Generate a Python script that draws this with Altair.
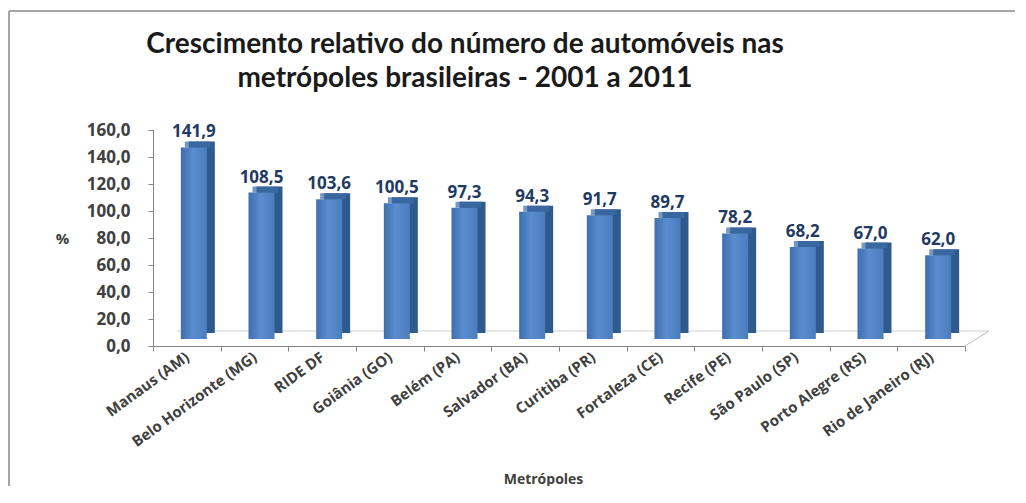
import altair as alt
import pandas as pd

cities = ["Manaus (AM)", "Belo Horizonte (MG)", "RIDE DF", "Goiânia (GO)", "Belém (PA)",
          "Salvador (BA)", "Curitiba (PR)", "Fortaleza (CE)", "Recife (PE)", "São Paulo (SP)",
          "Porto Alegre (RS)", "Rio de Janeiro (RJ)"]
values = [141.9, 108.5, 103.6, 100.5, 97.3, 94.3, 91.7, 89.7, 78.2, 68.2, 67.0, 62.0]
y_ticks = [0, 20, 40, 60, 80, 100, 120, 140, 160]
title_lines = ["Crescimento relativo do número de automóveis nas",
               "metrópoles brasileiras - 2001 a 2011"]

df = pd.DataFrame({"city": cities, "value": values})
df["label"] = [f"{v:.1f}".replace(".", ",") for v in values]

W, H = 812, 216
AX = "#868686"
TXT = "#404040"

xs = alt.Scale(domain=cities, paddingInner=0, paddingOuter=0)
ys = alt.Scale(domain=[0, 160], nice=False)

x_enc = alt.X("city:N", sort=cities, scale=xs, axis=alt.Axis(
    title="Metrópoles", labelAngle=-36, labelAlign="right", labelBaseline="middle",
    labelPadding=4, labelFont="Open Sans", labelFontWeight="bold", labelFontSize=15,
    labelColor=TXT, labelOverlap=False, tickBand="extent", tickSize=5, tickColor=AX,
    domainColor=AX, titleFont="Open Sans", titleFontWeight="bold", titleFontSize=14,
    titleColor=TXT, titleY=133, titleX=390, titleBaseline="middle"))
y_enc = alt.Y("value:Q", scale=ys, axis=alt.Axis(
    values=y_ticks, labelExpr="replace(format(datum.value, '.1f'), '.', ',')",
    labelOverlap=False, grid=False, tickSize=5, tickColor=AX, domainColor=AX,
    labelPadding=18, labelFont="Open Sans", labelFontWeight="bold", labelFontSize=17,
    labelColor=TXT, title="%", titleAngle=0, titleX=-91, titleY=116, titleFont="Open Sans",
    titleFontWeight="bold", titleFontSize=15, titleColor=TXT))

base = alt.Chart(df)
one = alt.Chart(pd.DataFrame({"a": [0]}))

floor_back = one.mark_rule(color="#d0d0d0", strokeWidth=1).encode(
    x=alt.value(24), x2=alt.value(W + 24), y=alt.value(H - 15))
floor_right = one.mark_rule(color="#bdbdbd", strokeWidth=1).encode(
    x=alt.value(W), x2=alt.value(W + 24), y=alt.value(H), y2=alt.value(H - 15))

side = base.mark_bar(size=26, color="#2F5A8E", xOffset=15, yOffset=-13, y2Offset=-13).encode(
    x=x_enc, y=y_enc, y2=alt.datum(0))
top = base.mark_tick(size=26, thickness=6, color="#3D6CA8", xOffset=11, yOffset=-10).encode(
    x=x_enc, y=y_enc)
grad = alt.LinearGradient(gradient="linear", x1=0, x2=1, y1=0, y2=0, stops=[
    alt.GradientStop(color="#3E6EAD", offset=0),
    alt.GradientStop(color="#5A8DCF", offset=0.45),
    alt.GradientStop(color="#4B7DBE", offset=1)])
front = base.mark_bar(size=26, color=grad, xOffset=7, yOffset=-7, y2Offset=-7).encode(
    x=x_enc, y=y_enc, y2=alt.datum(0))
labels = base.mark_text(font="Open Sans", fontWeight="bold", fontSize=17, color="#1F3B63",
                        baseline="bottom", xOffset=7, yOffset=-13).encode(
    x=x_enc, y=y_enc, text="label:N")

title = one.mark_text(font="Lato", fontSize=28, fontWeight="bold", color="#1a1a1a",
                      align="center", baseline="middle", lineHeight=34, clip=False).encode(
    x=alt.value(312), y=alt.value(-85), text=alt.value(title_lines))

border_top = one.mark_rule(color="#a6a6a6", strokeWidth=2, clip=False).encode(
    x=alt.value(-144), x2=alt.value(W + 60), y=alt.value(-119))
border_left = one.mark_rule(color="#a6a6a6", strokeWidth=2, clip=False).encode(
    x=alt.value(-144), y=alt.value(-119), y2=alt.value(H + 160))

chart = alt.layer(border_top, border_left, title, floor_back, floor_right, side, top, front, labels).properties(
    width=W, height=H,
    autosize=alt.AutoSizeParams(type="none"),
    padding={"left": 145, "top": 122, "right": 50, "bottom": 140},
    background="white",
).configure_view(stroke="transparent")

chart.save("out.html", embed_options={"renderer": "svg", "actions": False})
